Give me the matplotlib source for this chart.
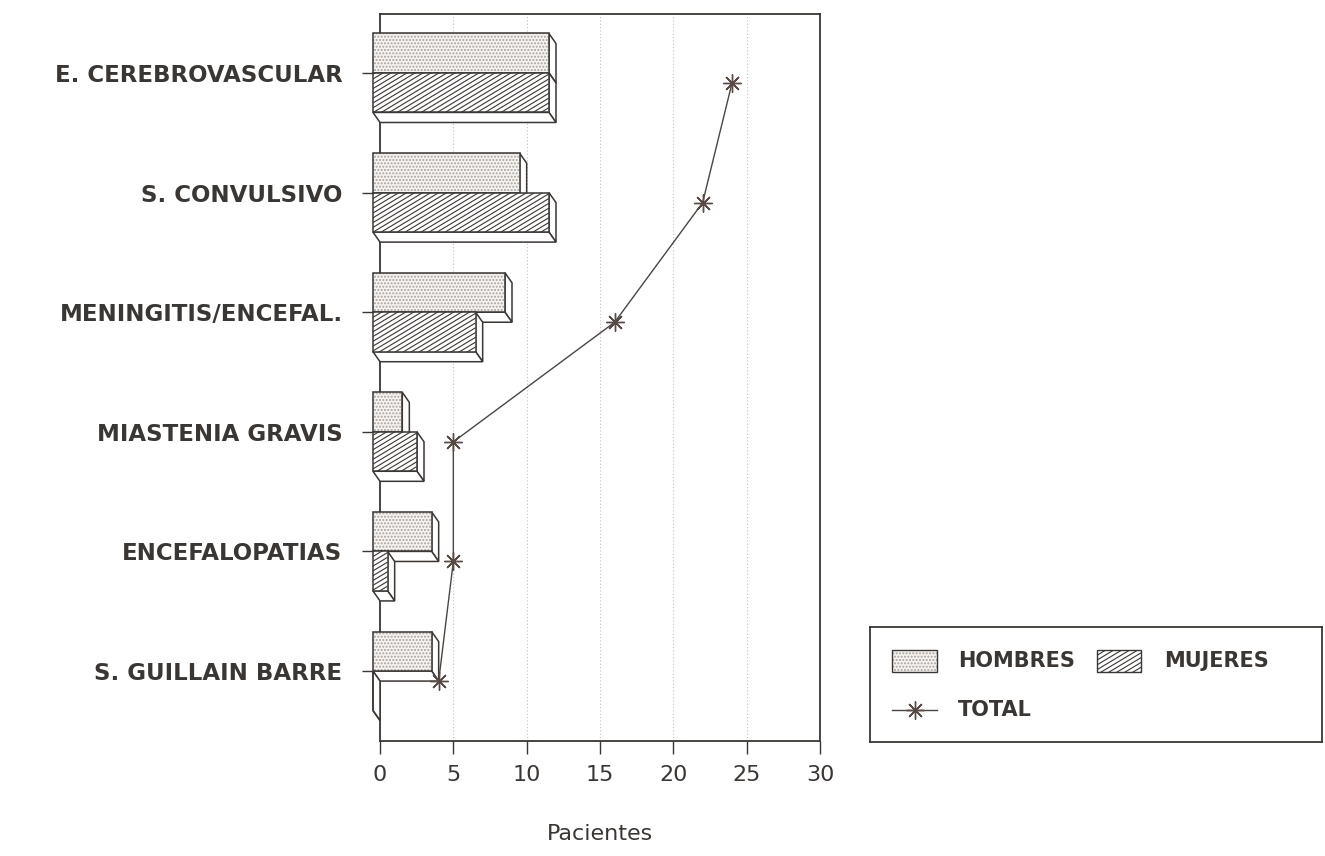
import matplotlib
matplotlib.use("Agg")
import numpy as np
import matplotlib.pyplot as plt
from matplotlib.patches import Polygon
from matplotlib.collections import LineCollection

# --- data -------------------------------------------------------------
categories = ["S. GUILLAIN BARRE", "ENCEFALOPATIAS", "MIASTENIA GRAVIS",
              "MENINGITIS/ENCEFAL.", "S. CONVULSIVO", "E. CEREBROVASCULAR"]
hombres = [4, 4, 2, 9, 10, 12]
mujeres = [0, 1, 3, 7, 12, 12]
total = [4, 5, 5, 16, 22, 24]
x_ticks = [0, 5, 10, 15, 20, 25, 30]
legend_labels = ["HOMBRES", "MUJERES", "TOTAL"]
x_label = "Pacientes"

# --- style ------------------------------------------------------------
INK = "#3a3634"
DOT = "#a9a29c"
plt.rcParams["font.family"] = ["DejaVu Sans"]
plt.rcParams["hatch.linewidth"] = 1.0

W, H = 1325, 856
fig = plt.figure(figsize=(W / 100, H / 100), dpi=100)
fig.patch.set_facecolor("white")

ax = fig.add_axes([380 / W, 1 - 741 / H, 440 / W, (741 - 14) / H])
ax.set_xlim(0, 30)
ax.set_ylim(-0.585, 5.493)

BAR_H = 0.33      # height of each front face (category units)
DX = 0.48         # depth offset along x (value units)
DY = 0.084        # depth offset along y (category units)


def diag_hatch(axis, patch, x0, x1, y0, y1, angle=31, gap_px=4.8, lw=0.8):
    """Slanted hatch lines clipped to a patch, drawn in pixel-true angle."""
    xl, yl = axis.get_xlim(), axis.get_ylim()
    px_x = axis.bbox.width / (xl[1] - xl[0])
    px_y = axis.bbox.height / (yl[1] - yl[0])
    slope = np.tan(np.radians(angle)) * px_x / px_y
    step = gap_px / px_y
    span = (x1 - x0) * slope
    segs = []
    c = y0 - span - step
    while c < y1 + step:
        segs.append([(x0, c), (x1, c + span)])
        c += step
    lc = LineCollection(segs, colors=INK, linewidths=lw,
                        zorder=patch.get_zorder() + 0.1)
    axis.add_collection(lc)
    lc.set_clip_box(None)
    lc.set_clip_path(patch)


def box3d(axis, v, ybot, ytop, kind, z):
    """Extruded bar: front face plus visible right and bottom faces."""
    front_pts = [(-DX, ybot), (v - DX, ybot), (v - DX, ytop), (-DX, ytop)]
    right_pts = [(v - DX, ytop), (v, ytop - DY), (v, ybot - DY), (v - DX, ybot)]
    bottom_pts = [(-DX, ybot), (v - DX, ybot), (v, ybot - DY), (0, ybot - DY)]
    for pts in (right_pts, bottom_pts):
        axis.add_patch(Polygon(pts, closed=True, facecolor="white",
                               edgecolor=INK, lw=1.1, zorder=z, clip_on=False))
    if kind == "h":
        axis.add_patch(Polygon(front_pts, closed=True, facecolor="#f6f4f2",
                               edgecolor=DOT, hatch=".....", lw=0,
                               zorder=z + 0.2, clip_on=False))
        axis.add_patch(Polygon(front_pts, closed=True, fill=False,
                               edgecolor=INK, lw=1.1, zorder=z + 0.4,
                               clip_on=False))
    else:
        face = Polygon(front_pts, closed=True, facecolor="white",
                       edgecolor=INK, lw=1.1, zorder=z + 0.2, clip_on=False)
        axis.add_patch(face)
        if v > 0:
            diag_hatch(axis, face, -DX, v - DX, ybot, ytop)


ypos = np.arange(len(categories))
for i, (h, m) in enumerate(zip(hombres, mujeres)):
    box3d(ax, h, ypos[i], ypos[i] + BAR_H, "h", 3)
    box3d(ax, m, ypos[i] - BAR_H, ypos[i], "m", 4)

ax.plot(total, ypos - DY, color="#4a4542", lw=1.0, marker=(8, 2, 0),
        markersize=13, markeredgewidth=1.0, markeredgecolor="#5a4a45",
        zorder=8, clip_on=False)

# axes decoration
ax.set_xticks(x_ticks)
ax.set_yticks(ypos)
ax.set_yticklabels(categories, fontsize=16.5, fontweight="bold", color=INK)
ax.tick_params(axis="y", direction="out", length=13, width=1.0, color=INK,
               pad=14)
ax.tick_params(axis="x", direction="out", length=9, width=1.0, color=INK,
               pad=8, labelsize=16, labelcolor=INK)
ax.xaxis.grid(True, linestyle=(0, (1, 2)), color="#c4c0bc", lw=0.8)
ax.set_axisbelow(True)
for s in ax.spines.values():
    s.set_color(INK)
    s.set_linewidth(1.3)
ax.set_xlabel(x_label, fontsize=16, color=INK, labelpad=28)

# --- legend box -------------------------------------------------------
lax = fig.add_axes([870 / W, 1 - 742 / H, 452 / W, 115 / H])
lax.set_xlim(0, 1)
lax.set_ylim(0, 1)
lax.set_xticks([])
lax.set_yticks([])
for s in lax.spines.values():
    s.set_color(INK)
    s.set_linewidth(1.3)

hx0, hx1 = 0.049, 0.148
mx0, mx1 = 0.503, 0.600
py0, py1 = 0.609, 0.800
lax.add_patch(Polygon([(hx0, py0), (hx1, py0), (hx1, py1), (hx0, py1)],
                      facecolor="#f6f4f2", edgecolor=DOT, hatch=".....", lw=0))
lax.add_patch(Polygon([(hx0, py0), (hx1, py0), (hx1, py1), (hx0, py1)],
                      fill=False, edgecolor=INK, lw=1.0))
mface = Polygon([(mx0, py0), (mx1, py0), (mx1, py1), (mx0, py1)],
                facecolor="white", edgecolor=INK, lw=1.0)
lax.add_patch(mface)
diag_hatch(lax, mface, mx0, mx1, py0, py1)

lax.text(0.194, 0.704, legend_labels[0], fontsize=15, fontweight="bold",
         color=INK, va="center", ha="left")
lax.text(0.651, 0.704, legend_labels[1], fontsize=15, fontweight="bold",
         color=INK, va="center", ha="left")
lax.plot([hx0, (hx0 + hx1) / 2, hx1], [0.278] * 3, color="#4a4542", lw=1.0,
         marker=(8, 2, 0), markevery=[1], markersize=13,
         markeredgewidth=1.0, markeredgecolor="#5a4a45")
lax.text(0.194, 0.278, legend_labels[2], fontsize=15, fontweight="bold",
         color=INK, va="center", ha="left")

fig.savefig("out.png", dpi=100, facecolor="white")
